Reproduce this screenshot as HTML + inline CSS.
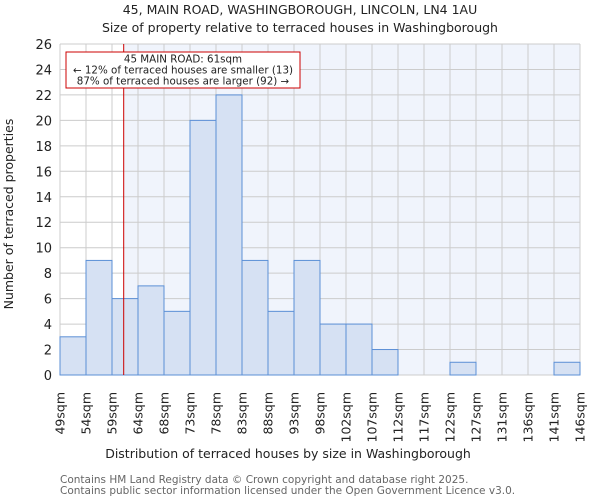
<!DOCTYPE html>
<html><head><meta charset="utf-8"><style>
body{margin:0;background:#fff;width:600px;height:500px;overflow:hidden;font-family:"DejaVu Sans","Liberation Sans",sans-serif}
</style></head><body>
<svg id="chart" width="600" height="500" xmlns="http://www.w3.org/2000/svg" font-family="DejaVu Sans, Liberation Sans, sans-serif">
<text x="300" y="14" text-anchor="middle" font-size="12.5" fill="#222">45, MAIN ROAD, WASHINGBOROUGH, LINCOLN, LN4 1AU</text>
<text x="300" y="32" text-anchor="middle" font-size="12.5" fill="#222">Size of property relative to terraced houses in Washingborough</text>
<g id="plot"></g>
<text x="288" y="458" text-anchor="middle" font-size="12.5" fill="#222">Distribution of terraced houses by size in Washingborough</text>
<text transform="translate(13,214) rotate(-90)" text-anchor="middle" font-size="12.5" fill="#222">Number of terraced properties</text>
<text x="60" y="483" font-size="10.5" fill="#666">Contains HM Land Registry data © Crown copyright and database right 2025.</text>
<text x="60" y="494" font-size="10.5" fill="#666">Contains public sector information licensed under the Open Government Licence v3.0.</text>
</svg>
<script>
const tickLabels=["49sqm","54sqm","59sqm","64sqm","68sqm","73sqm","78sqm","83sqm","88sqm","93sqm","98sqm","102sqm","107sqm","112sqm","117sqm","122sqm","127sqm","131sqm","136sqm","141sqm","146sqm"];
const counts=[3,9,6,7,5,20,22,9,5,9,4,4,2,0,0,1,0,0,0,1];
const yTicks=[0,2,4,6,8,10,12,14,16,18,20,22,24,26];
const markerBin=2.45;
const NS="http://www.w3.org/2000/svg";
const L=60,R=580,T=44,B=375,YMAX=26;
const bw=(R-L)/counts.length;
const xs=i=>L+i*bw;
const ys=v=>B-(v/YMAX)*(B-T);
const g=document.getElementById('plot');
function mk(tag,attrs){const e=document.createElementNS(NS,tag);for(const k in attrs)e.setAttribute(k,attrs[k]);g.appendChild(e);return e;}
const mx=xs(markerBin);
let e=mk('rect',{x:mx,y:T,width:R-mx,height:B-T,fill:'#f0f4fc'});


yTicks.forEach(v=>{const l=mk('line',{x1:L,x2:R,y1:ys(v),y2:ys(v),stroke:'#ccc','stroke-width':1});


const t=mk('text',{x:L-8,y:ys(v)+5,'text-anchor':'end','font-size':13,fill:'#222'});t.textContent=v;

});
tickLabels.forEach((s,i)=>{const l=mk('line',{x1:xs(i),x2:xs(i),y1:T,y2:B,stroke:'#ccc','stroke-width':1});


const t=mk('text',{transform:`translate(${xs(i)+4.5},${B+17}) rotate(-90)`,'text-anchor':'end','font-size':12.5,fill:'#222'});t.textContent=s;

});
counts.forEach((c,i)=>{if(c<=0)return;const r=mk('rect',{x:xs(i),y:ys(c),width:bw,height:B-ys(c),fill:'#d6e1f3',stroke:'#5b8fd6','stroke-width':1});

});
const m=mk('line',{x1:mx,x2:mx,y1:T,y2:B,stroke:'#cc0000','stroke-width':1});


const ab=mk('rect',{x:66,y:52,width:234,height:36,fill:'#fff',stroke:'#cc0000','stroke-width':1});


["45 MAIN ROAD: 61sqm","← 12% of terraced houses are smaller (13)","87% of terraced houses are larger (92) →"].forEach((s,i)=>{const t=mk('text',{x:183,y:62.5+i*11,'text-anchor':'middle','font-size':10.3,fill:'#222'});t.textContent=s;

});
</script>
</body></html>
